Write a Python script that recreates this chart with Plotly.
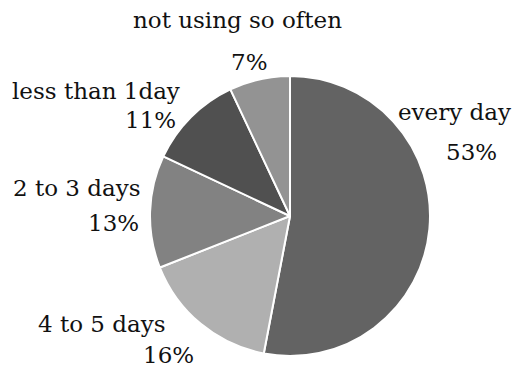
import plotly.graph_objects as go

labels = ["every day", "4 to 5 days", "2 to 3 days", "less than 1day", "not using so often"]
values = [53, 16, 13, 11, 7]
colors = ["#636363", "#b0b0b0", "#828282", "#505050", "#939393"]

W, H = 518, 370
cx, cy, r = 290, 216, 140

fig = go.Figure(go.Pie(
    labels=labels, values=values, sort=False, direction="clockwise", rotation=0,
    marker=dict(colors=colors, line=dict(color="white", width=2)),
    textinfo="none", hoverinfo="label+percent", showlegend=False,
    domain=dict(x=[(cx - r) / W, (cx + r) / W], y=[1 - (cy + r) / H, 1 - (cy - r) / H]),
))

# (label x, label y, pct x, pct y) in pixels, centers
pos = [
    (454, 112, 471, 152),
    (102, 324, 168, 355),
    (77, 188, 113, 223),
    (96, 91, 150, 120),
    (237, 20, 249, 62),
]
total = sum(values)
for lab, v, (lx, ly, px, py) in zip(labels, values, pos):
    fig.add_annotation(x=lx / W, y=1 - ly / H, xref="paper", yref="paper", text=lab,
                       showarrow=False, xanchor="center", yanchor="middle")
    fig.add_annotation(x=px / W, y=1 - py / H, xref="paper", yref="paper",
                       text=f"{round(100 * v / total)}%",
                       showarrow=False, xanchor="center", yanchor="middle")

fig.update_layout(width=W, height=H, margin=dict(l=0, r=0, t=0, b=0),
                  font=dict(family="DejaVu Serif", size=23, color="#111111"),
                  paper_bgcolor="white", plot_bgcolor="white")
fig.write_html("out.html")
